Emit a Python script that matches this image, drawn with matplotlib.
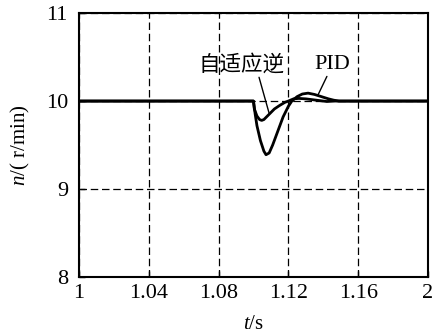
import matplotlib
matplotlib.use("Agg")
import matplotlib.pyplot as plt

plt.rcParams['font.family'] = ['Liberation Serif', 'Noto Sans CJK SC']
plt.rcParams['mathtext.fontset'] = 'custom'
plt.rcParams['mathtext.it'] = 'Liberation Serif:italic'
plt.rcParams['mathtext.rm'] = 'Liberation Serif'

# speed response after a load step at t = 1.10 s
t_pid = [1.000, 1.100, 1.101, 1.102, 1.104, 1.106, 1.1072, 1.109, 1.111,
         1.114, 1.117, 1.120, 1.122, 1.125, 1.128, 1.1313, 1.135, 1.139,
         1.143, 1.146, 1.149, 1.200]
n_pid = [10.0, 10.0, 9.85, 9.72, 9.55, 9.43, 9.39, 9.41, 9.50,
         9.66, 9.82, 9.94, 10.0, 10.05, 10.08, 10.09, 10.075, 10.05,
         10.025, 10.01, 10.0, 10.0]

t_adp = [1.000, 1.100, 1.1005, 1.102, 1.1035, 1.1047, 1.106, 1.109, 1.112,
         1.115, 1.118, 1.120, 1.123, 1.126, 1.130, 1.134, 1.138, 1.142,
         1.146, 1.200]
n_adp = [10.0, 10.0, 9.91, 9.83, 9.79, 9.78, 9.79, 9.85, 9.91,
         9.95, 9.985, 10.0, 10.025, 10.03, 10.025, 10.015, 10.005, 9.995,
         10.0, 10.0]

xticks = [1.00, 1.04, 1.08, 1.12, 1.16, 1.20]
xtick_labels = ['1', '1.04', '1.08', '1.12', '1.16', '2']
yticks = [8, 9, 10, 11]

fig = plt.figure(figsize=(4.34, 3.35), dpi=100)
ax = fig.add_axes([0.182, 0.173, 0.804, 0.788])

ax.plot(t_pid, n_pid, color='black', lw=2.0, solid_joinstyle='round')
ax.plot(t_adp, n_adp, color='black', lw=2.0, solid_joinstyle='round')

ax.set_xlim(1.0, 1.2)
ax.set_ylim(8, 11)
ax.set_xticks(xticks)
ax.set_xticklabels(xtick_labels)
ax.set_yticks(yticks)
ax.grid(True, color='black', linestyle=(0, (6, 3)), linewidth=0.9)
ax.tick_params(direction='in', length=4, width=1, labelsize=16)
ax.tick_params(axis='x', pad=5)
ax.tick_params(axis='y', pad=8)
for s in ax.spines.values():
    s.set_linewidth(1.5)

ax.set_xlabel(r'$t$/s', fontsize=15, labelpad=9)
ax.set_ylabel(r'$n$/( r/min)', fontsize=15, labelpad=10)

# curve labels with leader lines
ax.text(1.0934, 10.41, '自适应逆', fontsize=15.5, family='Noto Sans CJK SC',
        ha='center', va='center')
ax.annotate('', xy=(1.109, 9.86), xytext=(1.1032, 10.27),
            arrowprops=dict(arrowstyle='-', color='black', lw=1,
                            shrinkA=0, shrinkB=0))
ax.text(1.145, 10.41, 'PID', fontsize=16, ha='center', va='center')
ax.annotate('', xy=(1.137, 10.07), xytext=(1.1421, 10.28),
            arrowprops=dict(arrowstyle='-', color='black', lw=1,
                            shrinkA=0, shrinkB=0))

fig.savefig('out.png', dpi=100)
